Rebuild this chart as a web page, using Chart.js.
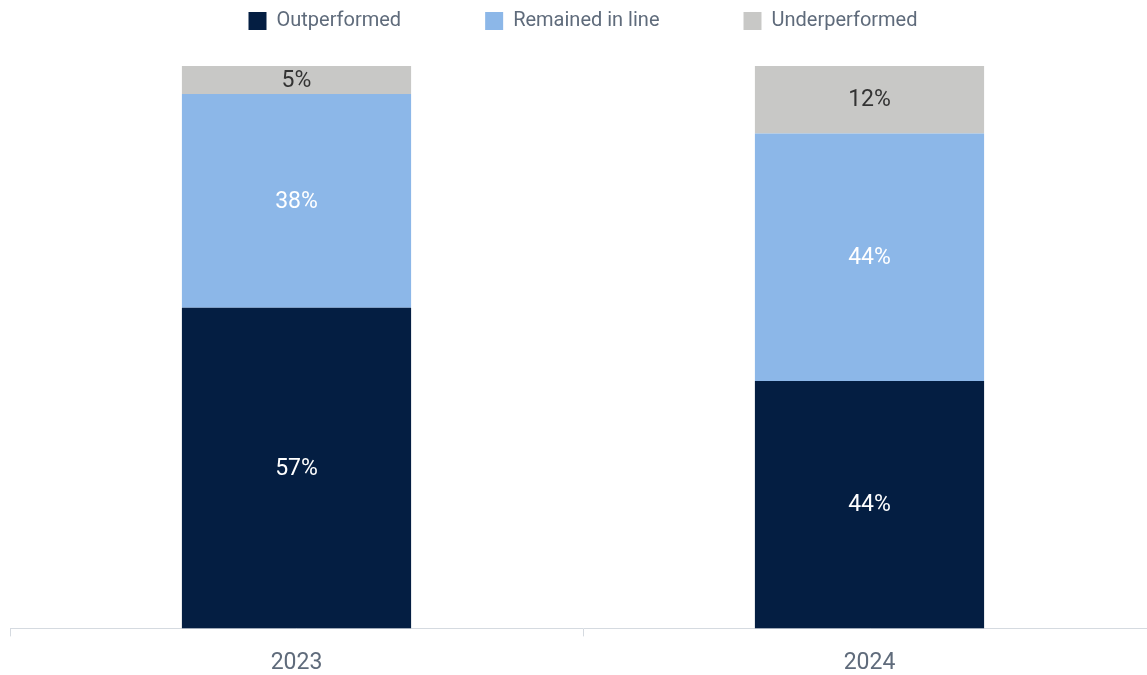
<!DOCTYPE html>
<html>
<head>
<meta charset="utf-8">
<title>Performance vs expectations</title>
<script src="https://cdn.jsdelivr.net/npm/chart.js@4.4.1/dist/chart.umd.min.js"></script>
<style>
  html, body { margin: 0; padding: 0; background: #fff; overflow: hidden; }
  #wrap { width: 1157px; height: 675px; }
</style>
</head>
<body>
<div id="wrap">
  <canvas id="perfChart" width="1157" height="675"></canvas>
</div>
<script>
const years = ["2023", "2024"];
const outperformed = [57, 44];
const remainedInLine = [38, 44];
const underperformed = [5, 12];

const colors = {
  outperformed: "#041e42",
  remained: "#8cb7e8",
  under: "#c8c8c6"
};

// legend needs wide gaps between items but a short box, so cap its height
const legendHeight = {
  id: "legendHeight",
  beforeInit(chart) {
    const fit = chart.legend.fit;
    chart.legend.fit = function () {
      fit.call(this);
      this.height = 139;
    };
  }
};

// percentage text in the middle of every segment
const segmentLabels = {
  id: "segmentLabels",
  afterDatasetsDraw(chart) {
    const ctx = chart.ctx;
    ctx.save();
    ctx.font = "23px Roboto";
    ctx.textAlign = "center";
    ctx.textBaseline = "middle";
    chart.data.datasets.forEach((ds, i) => {
      const meta = chart.getDatasetMeta(i);
      meta.data.forEach((bar, j) => {
        const p = bar.getProps(["x", "y", "base"], true);
        ctx.fillStyle = i == 2 ? "#333333" : "#ffffff";
        ctx.fillText(ds.data[j] + "%", p.x, (p.y + p.base) / 2 + 1);
      });
    });
    ctx.restore();
  }
};

new Chart(document.getElementById("perfChart"), {
  type: "bar",
  data: {
    labels: years,
    datasets: [
      { label: "Outperformed", data: outperformed, backgroundColor: colors.outperformed },
      { label: "Remained in line", data: remainedInLine, backgroundColor: colors.remained },
      { label: "Underperformed", data: underperformed, backgroundColor: colors.under }
    ]
  },
  options: {
    responsive: false,
    animation: false,
    layout: {
      padding: { top: -73, left: 10, right: 1, bottom: -15 }
    },
    datasets: {
      bar: { barPercentage: 0.4, categoryPercentage: 1 }
    },
    scales: {
      x: {
        stacked: true,
        border: { color: "#d5dae0" },
        grid: {
          offset: true,
          drawOnChartArea: false,
          tickLength: 8,
          color: "#d5dae0"
        },
        ticks: {
          color: "#5f6b7b",
          padding: 13,
          font: { family: "Roboto", size: 23 }
        }
      },
      y: {
        stacked: true,
        display: false,
        min: 0,
        max: 100
      }
    },
    plugins: {
      tooltip: { enabled: false },
      legend: {
        position: "top",
        labels: {
          boxWidth: 18,
          boxHeight: 18,
          padding: 84,
          color: "#5f6b7b",
          font: { family: "Roboto", size: 20 }
        }
      }
    }
  },
  plugins: [legendHeight, segmentLabels]
});
</script>
</body>
</html>
